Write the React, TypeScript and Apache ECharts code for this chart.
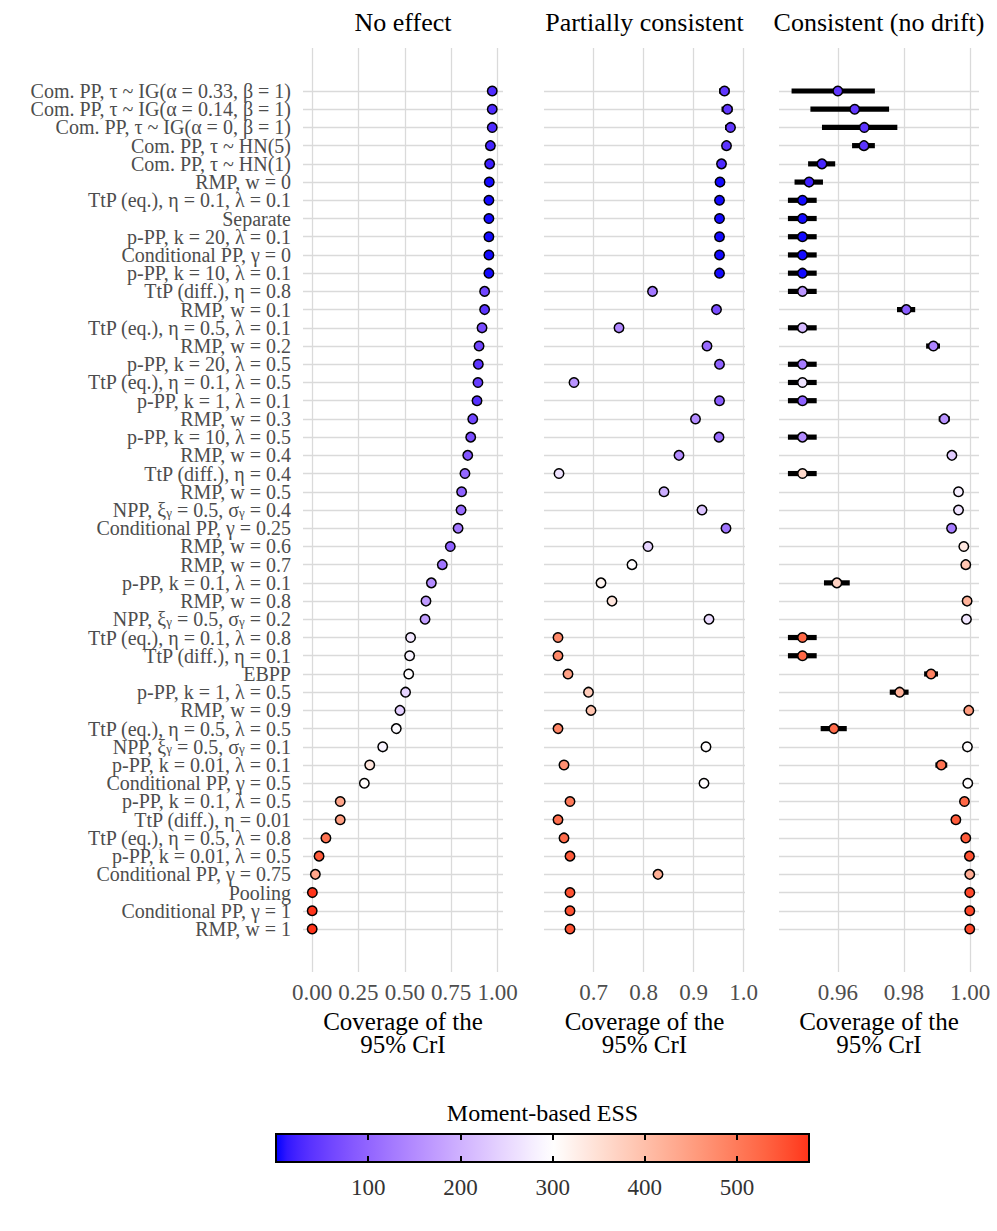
import React, { useEffect, useRef } from "react";
import * as echarts from "echarts";

const rowLabels = [
  "Com. PP, τ ~ IG(α = 0.33, β = 1)",
  "Com. PP, τ ~ IG(α = 0.14, β = 1)",
  "Com. PP, τ ~ IG(α = 0, β = 1)",
  "Com. PP, τ ~ HN(5)",
  "Com. PP, τ ~ HN(1)",
  "RMP, w = 0",
  "TtP (eq.), η = 0.1, λ = 0.1",
  "Separate",
  "p-PP, k = 20, λ = 0.1",
  "Conditional PP, γ = 0",
  "p-PP, k = 10, λ = 0.1",
  "TtP (diff.), η = 0.8",
  "RMP, w = 0.1",
  "TtP (eq.), η = 0.5, λ = 0.1",
  "RMP, w = 0.2",
  "p-PP, k = 20, λ = 0.5",
  "TtP (eq.), η = 0.1, λ = 0.5",
  "p-PP, k = 1, λ = 0.1",
  "RMP, w = 0.3",
  "p-PP, k = 10, λ = 0.5",
  "RMP, w = 0.4",
  "TtP (diff.), η = 0.4",
  "RMP, w = 0.5",
  "NPP, ξ_γ = 0.5, σ_γ = 0.4",
  "Conditional PP, γ = 0.25",
  "RMP, w = 0.6",
  "RMP, w = 0.7",
  "p-PP, k = 0.1, λ = 0.1",
  "RMP, w = 0.8",
  "NPP, ξ_γ = 0.5, σ_γ = 0.2",
  "TtP (eq.), η = 0.1, λ = 0.8",
  "TtP (diff.), η = 0.1",
  "EBPP",
  "p-PP, k = 1, λ = 0.5",
  "RMP, w = 0.9",
  "TtP (eq.), η = 0.5, λ = 0.5",
  "NPP, ξ_γ = 0.5, σ_γ = 0.1",
  "p-PP, k = 0.01, λ = 0.1",
  "Conditional PP, γ = 0.5",
  "p-PP, k = 0.1, λ = 0.5",
  "TtP (diff.), η = 0.01",
  "TtP (eq.), η = 0.5, λ = 0.8",
  "p-PP, k = 0.01, λ = 0.5",
  "Conditional PP, γ = 0.75",
  "Pooling",
  "Conditional PP, γ = 1",
  "RMP, w = 1",
];

const panelTitles = ["No effect", "Partially consistent", "Consistent (no drift)"];
const axisTitle = "Coverage of the\n95% CrI";

// Panel 1: No effect
const noEffectCoverage = [
  0.971, 0.971, 0.971, 0.961, 0.957, 0.955, 0.953, 0.953, 0.953, 0.953, 0.953, 0.93, 0.93, 0.916, 0.9, 0.896,
  0.894, 0.889, 0.866, 0.855, 0.839, 0.824, 0.806, 0.803, 0.787, 0.745, 0.702, 0.643, 0.614, 0.609, 0.531, 0.526,
  0.521, 0.504, 0.474, 0.454, 0.381, 0.311, 0.282, 0.152, 0.152, 0.075, 0.038, 0.018, 0.002, 0.001, 0.001,
];
const noEffectEss = [
  30, 30, 30, 22, 18, 5, 5, 5, 5, 5, 5, 60, 40, 70, 60, 40,
  50, 35, 60, 70, 80, 105, 95, 110, 125, 95, 120, 150, 170, 175, 270, 285,
  300, 245, 240, 295, 285, 340, 305, 440, 450, 510, 540, 440, 578, 578, 578,
];

// Panel 2: Partially consistent
const partialCoverage = [
  0.962, 0.968, 0.974, 0.966, 0.956, 0.953, 0.952, 0.952, 0.952, 0.952, 0.952, 0.818, 0.946, 0.751, 0.927, 0.952,
  0.661, 0.952, 0.904, 0.951, 0.871, 0.631, 0.841, 0.917, 0.965, 0.809, 0.777, 0.715, 0.737, 0.931, 0.629, 0.629,
  0.649, 0.69, 0.695, 0.629, 0.925, 0.641, 0.921, 0.653, 0.629, 0.641, 0.653, 0.829, 0.653, 0.653, 0.653,
];
const partialLower = [
  0.951, 0.956, 0.963, null, null, null, null, null, null, null, null, null, null, null, null, null,
  null, null, null, null, null, null, null, null, null, null, null, null, null, null, null, null,
  null, null, null, null, null, null, null, null, null, null, null, null, null, null, null,
];
const partialUpper = [
  0.972, 0.978, 0.982, null, null, null, null, null, null, null, null, null, null, null, null, null,
  null, null, null, null, null, null, null, null, null, null, null, null, null, null, null, null,
  null, null, null, null, null, null, null, null, null, null, null, null, null, null, null,
];
const partialEss = [
  45, 45, 45, 40, 30, 5, 5, 5, 5, 5, 5, 125, 70, 145, 110, 95,
  160, 90, 150, 110, 150, 265, 195, 225, 120, 245, 300, 315, 340, 255, 480, 480,
  445, 380, 395, 485, 300, 470, 300, 500, 515, 520, 540, 425, 550, 550, 550,
];

// Panel 3: Consistent (no drift)
const consistentCoverage = [
  0.96, 0.9651, 0.968, 0.9679, 0.9552, 0.9513, 0.9493, 0.9493, 0.9493, 0.9493, 0.9493, 0.9493, 0.9807, 0.9493, 0.9889, 0.9493,
  0.9493, 0.9493, 0.9922, 0.9493, 0.9945, 0.9493, 0.9965, 0.9965, 0.9944, 0.9981, 0.9987, 0.9597, 0.9991, 0.9989, 0.9493, 0.9493,
  0.9882, 0.9787, 0.9996, 0.9588, 0.9992, 0.9913, 0.9993, 0.9983, 0.9957, 0.9987, 0.9998, 0.9999, 0.9999, 0.9999, 0.9999,
];
const consistentLower = [
  0.946, 0.9517, 0.9552, 0.9643, 0.951, 0.9469, 0.9449, 0.9449, 0.9449, 0.9449, 0.9449, 0.9449, 0.9779, 0.9449, 0.9867, 0.9449,
  0.9449, 0.9449, 0.9905, 0.9449, 0.994, 0.9449, null, null, 0.9938, null, null, 0.9558, null, null, 0.9449, 0.9449,
  0.9861, 0.9757, null, 0.9548, null, 0.9895, null, null, 0.9952, null, null, null, null, null, null,
];
const consistentUpper = [
  0.9712, 0.9755, 0.978, 0.9712, 0.9592, 0.9555, 0.9536, 0.9536, 0.9536, 0.9536, 0.9536, 0.9536, 0.9834, 0.9536, 0.9909, 0.9536,
  0.9536, 0.9536, 0.9939, 0.9536, 0.995, 0.9536, null, null, 0.995, null, null, 0.9636, null, null, 0.9536, 0.9536,
  0.9903, 0.9814, null, 0.9627, null, 0.9931, null, null, 0.9962, null, null, null, null, null, null,
];
const consistentEss = [
  45, 45, 40, 40, 25, 20, 5, 5, 5, 5, 5, 165, 90, 210, 140, 130,
  265, 95, 160, 150, 235, 360, 280, 265, 130, 335, 390, 370, 420, 270, 525, 525,
  490, 420, 455, 520, 300, 510, 300, 525, 540, 540, 550, 430, 560, 560, 560,
];

const panel1Ticks = [0, 0.25, 0.5, 0.75, 1];
const panel1TickLabels = ["0.00", "0.25", "0.50", "0.75", "1.00"];
const panel2Ticks = [0.7, 0.8, 0.9, 1.0];
const panel2TickLabels = ["0.7", "0.8", "0.9", "1.0"];
const panel3Ticks = [0.96, 0.98, 1.0];
const panel3TickLabels = ["0.96", "0.98", "1.00"];

const essTitle = "Moment-based ESS";
const essTicks = [100, 200, 300, 400, 500];
const essTickLabels = ["100", "200", "300", "400", "500"];
const essMin = 0;
const essMax = 578;
const essMid = 300;

const SERIF = '"Liberation Serif", "DejaVu Serif", serif';
const GRID_COLOR = "#dadada";

// ---------- colour scale (Lab interpolation, like ggplot's gradient2) ----------
function hexToRgb(h: string): number[] {
  const s = h.replace("#", "");
  return [0, 2, 4].map((i) => parseInt(s.slice(i, i + 2), 16) / 255);
}
function toLab(hex: string): number[] {
  const lin = hexToRgb(hex).map((c) => (c <= 0.04045 ? c / 12.92 : Math.pow((c + 0.055) / 1.055, 2.4)));
  const [r, g, b] = lin;
  const X = (0.4124 * r + 0.3576 * g + 0.1805 * b) / 0.95047;
  const Y = 0.2126 * r + 0.7152 * g + 0.0722 * b;
  const Z = (0.0193 * r + 0.1192 * g + 0.9505 * b) / 1.08883;
  const f = (t: number) => (t > 0.008856 ? Math.cbrt(t) : 7.787 * t + 16 / 116);
  const fx = f(X), fy = f(Y), fz = f(Z);
  return [116 * fy - 16, 500 * (fx - fy), 200 * (fy - fz)];
}
function fromLab(lab: number[]): string {
  const [L, a, bb] = lab;
  const fy = (L + 16) / 116;
  const fx = fy + a / 500;
  const fz = fy - bb / 200;
  const inv = (t: number) => (t * t * t > 0.008856 ? t * t * t : (t - 16 / 116) / 7.787);
  const X = inv(fx) * 0.95047, Y = inv(fy), Z = inv(fz) * 1.08883;
  const r = 3.2406 * X - 1.5372 * Y - 0.4986 * Z;
  const g = -0.9689 * X + 1.8758 * Y + 0.0415 * Z;
  const b = 0.0557 * X - 0.204 * Y + 1.057 * Z;
  const gam = (c: number) => {
    const v = c <= 0.0031308 ? 12.92 * c : 1.055 * Math.pow(c, 1 / 2.4) - 0.055;
    return Math.round(Math.min(1, Math.max(0, v)) * 255);
  };
  return "rgb(" + gam(r) + "," + gam(g) + "," + gam(b) + ")";
}
const LOW_LAB = toLab("#0000FF");
const MID_LAB = toLab("#FFFFFF");
const HIGH_LAB = toLab("#FF0000");
function essColor(v: number): string {
  const span = Math.max(essMid - essMin, essMax - essMid);
  const t = 0.5 + (v - essMid) / (2 * span);
  const mix = (p: number[], q: number[], u: number) => p.map((x, i) => x + (q[i] - x) * u);
  if (t <= 0.5) return fromLab(mix(LOW_LAB, MID_LAB, Math.max(0, t) / 0.5));
  return fromLab(mix(MID_LAB, HIGH_LAB, Math.min(1, (t - 0.5) / 0.5)));
}
const STOP_COUNT = 48;
const colorStopValues = Array.from({ length: STOP_COUNT + 1 }, (_, i) => essMin + ((essMax - essMin) * i) / STOP_COUNT);

// ---------- layout ----------
const GRID_TOP = 48;
const GRID_HEIGHT = 924;
const Y_MIN = -2.36;
const Y_MAX = 48.36;

const panels = [
  { left: 303, width: 200, min: -0.0485, max: 1.029, ticks: panel1Ticks, tickLabels: panel1TickLabels, cov: noEffectCoverage, ess: noEffectEss, lo: null as any, hi: null as any },
  { left: 544, width: 201, min: 0.601, max: 1.003, ticks: panel2Ticks, tickLabels: panel2TickLabels, cov: partialCoverage, ess: partialEss, lo: partialLower, hi: partialUpper },
  { left: 779, width: 200, min: 0.9422, max: 1.0027, ticks: panel3Ticks, tickLabels: panel3TickLabels, cov: consistentCoverage, ess: consistentEss, lo: consistentLower, hi: consistentUpper },
];

const CB = { left: 276, top: 1134, width: 533, height: 28 };

function rowLabelText(v: number): string {
  const i = Math.round(v);
  if (Math.abs(v - i) > 1e-6) return "";
  const s = rowLabels[i];
  if (s === undefined) return "";
  if (s.indexOf("_γ") >= 0) {
    return "{m|" + s.split("_γ").join("}{s|γ}{m|") + "}";
  }
  return s;
}

export default function App() {
  const ref = useRef<HTMLDivElement>(null);
  useEffect(() => {
    if (!ref.current) return;
    const chart = echarts.init(ref.current, undefined, { renderer: "svg" });
    const rowIdx = rowLabels.map((_, i) => i);
    // outer empty label slots keep ECharts' min/max-label overlap logic away from the real rows
    const labelSlots = [-2].concat(rowIdx, [rowLabels.length + 1]);

    const grids: any[] = panels.map((p) => ({ left: p.left, width: p.width, top: GRID_TOP, height: GRID_HEIGHT, containLabel: false }));
    grids.push({
      left: CB.left, width: CB.width, top: CB.top, height: CB.height, show: true,
      borderColor: "#000", borderWidth: 2,
      backgroundColor: {
        type: "linear", x: 0, y: 0, x2: 1, y2: 0,
        colorStops: colorStopValues.map((v) => ({ offset: (v - essMin) / (essMax - essMin), color: essColor(v) })),
      },
    });

    const xAxes: any[] = panels.map((p, i) => ({
      type: "value", gridIndex: i, min: p.min, max: p.max,
      axisLine: { show: false },
      axisTick: { show: false, customValues: p.ticks },
      axisLabel: {
        customValues: p.ticks, margin: 9, fontSize: 23, fontFamily: SERIF, color: "#4d4d4d",
        showMinLabel: true, showMaxLabel: true,
        formatter: (v: number) => {
          const k = p.ticks.findIndex((t) => Math.abs(t - v) < 1e-9);
          return k >= 0 ? p.tickLabels[k] : "";
        },
      },
      splitLine: { show: true, lineStyle: { color: GRID_COLOR, width: 1.3 } },
      name: axisTitle, nameLocation: "middle", nameGap: 33,
      nameTextStyle: { fontSize: 25, lineHeight: 23, fontFamily: SERIF, color: "#000" },
    }));
    const cbAxis = (position: string, showLabel: boolean) => ({
      type: "value", gridIndex: 3, position, min: essMin, max: essMax,
      axisLine: { show: false },
      axisTick: { show: true, inside: true, length: 6, customValues: essTicks, lineStyle: { color: "#000", width: 2 } },
      axisLabel: {
        show: showLabel, customValues: essTicks, margin: 14, fontSize: 23, fontFamily: SERIF, color: "#333",
        formatter: (v: number) => {
          const k = essTicks.findIndex((t) => Math.abs(t - v) < 1e-9);
          return k >= 0 ? essTickLabels[k] : "";
        },
      },
      splitLine: { show: false },
    });
    xAxes.push(cbAxis("bottom", true));
    xAxes.push(cbAxis("top", false));

    const yAxes: any[] = panels.map((p, i) => ({
      type: "value", gridIndex: i, inverse: true, min: Y_MIN, max: Y_MAX,
      axisLine: { show: false },
      axisTick: { show: false, customValues: rowIdx },
      axisLabel: {
        show: i === 0, customValues: labelSlots, margin: 12, fontSize: 20, lineHeight: 17, fontFamily: SERIF, color: "#4d4d4d",
        hideOverlap: false,
        formatter: rowLabelText,
        rich: {
          m: { fontSize: 20, fontFamily: SERIF, color: "#4d4d4d", lineHeight: 17 },
          s: { fontSize: 13, fontFamily: SERIF, color: "#4d4d4d", lineHeight: 10, verticalAlign: "bottom" },
        },
      },
      splitLine: { show: true, lineStyle: { color: GRID_COLOR, width: 1.3 } },
    }));
    yAxes.push({ type: "value", gridIndex: 3, min: 0, max: 1, show: false });

    const series: any[] = [];
    const scatterIdx: number[] = [];
    panels.forEach((p, i) => {
      if (p.lo && p.hi) {
        const bars: any[] = [];
        p.cov.forEach((_: number, j: number) => {
          if (p.lo[j] != null && p.hi[j] != null) bars.push([p.lo[j], p.hi[j], j]);
        });
        series.push({
          type: "custom", xAxisIndex: i, yAxisIndex: i, z: 2,
          encode: { x: [0, 1], y: 2 },
          data: bars,
          renderItem: (_params: any, api: any) => {
            const a = api.coord([api.value(0), api.value(2)]);
            const b = api.coord([api.value(1), api.value(2)]);
            return { type: "rect", shape: { x: a[0], y: a[1] - 2.6, width: b[0] - a[0], height: 5.2 }, style: { fill: "#000" } };
          },
        });
      }
      scatterIdx.push(series.length);
      series.push({
        type: "scatter", xAxisIndex: i, yAxisIndex: i, z: 3,
        symbol: "circle", symbolSize: 9.5,
        itemStyle: { borderColor: "#000", borderWidth: 1.5, opacity: 1 },
        data: p.cov.map((c: number, j: number) => [c, j, p.ess[j]]),
      });
    });

    const graphic: any[] = panels.map((p, i) => ({
      type: "text", x: p.left + p.width / 2, y: 22,
      style: { text: panelTitles[i], fontSize: 26, fontFamily: SERIF, fill: "#000", align: "center", verticalAlign: "middle" },
    }));
    graphic.push({
      type: "text", x: CB.left + CB.width / 2, y: 1113,
      style: { text: essTitle, fontSize: 24, fontFamily: SERIF, fill: "#000", align: "center", verticalAlign: "middle" },
    });

    chart.setOption({
      animation: false,
      backgroundColor: "#fff",
      grid: grids,
      xAxis: xAxes,
      yAxis: yAxes,
      visualMap: {
        type: "continuous", show: false, min: essMin, max: essMax, dimension: 2, seriesIndex: scatterIdx,
        inRange: { color: colorStopValues.map((v) => essColor(v)) },
      },
      series,
      graphic,
    });
    return () => chart.dispose();
  }, []);
  return <div ref={ref} style={{ position: "absolute", left: 0, top: 0, width: 997, height: 1231 }} />;
}
